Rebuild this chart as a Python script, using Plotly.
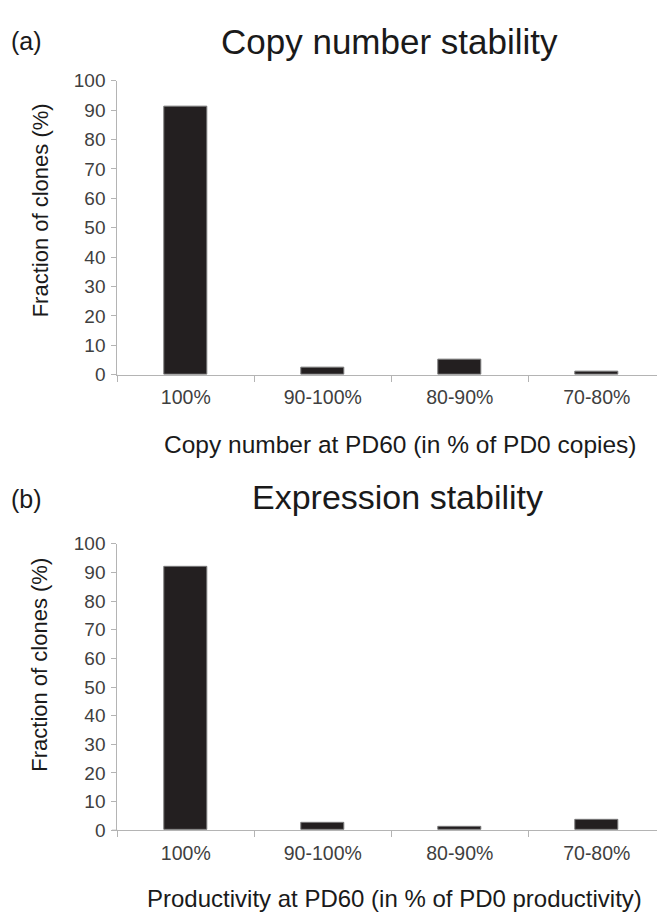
import plotly.graph_objects as go

categories = ["100%", "90-100%", "80-90%", "70-80%"]
copy_number_values = [91.0, 2.5, 5.0, 1.2]
expression_values = [92.0, 2.4, 1.0, 3.7]
y_ticks = [0, 10, 20, 30, 40, 50, 60, 70, 80, 90, 100]

W, H = 657, 921
FONT = "Liberation Sans, Arial, sans-serif"
BAR = "#231f20"
AX = "#b4b4b4"
TXT = "#3f3f3f"

def px_x(x):
    return x / W

def px_y(y):
    return 1 - y / H

fig = go.Figure()

fig.add_trace(go.Bar(x=categories, y=copy_number_values, width=0.317,
                     marker=dict(color=BAR, line=dict(color="#7a7a7a", width=1)),
                     xaxis="x", yaxis="y", showlegend=False))
fig.add_trace(go.Bar(x=categories, y=expression_values, width=0.317,
                     marker=dict(color=BAR, line=dict(color="#7a7a7a", width=1)),
                     xaxis="x2", yaxis="y2", showlegend=False))

x_dom = [px_x(117.3), 1]
xrange = [-0.5, 3.5 - 8.3 / 137]

common_x = dict(type="category", range=xrange, showline=True, linecolor=AX, linewidth=1,
                ticks="outside", tickson="boundaries", ticklen=6, tickcolor=AX,
                tickfont=dict(family=FONT, size=19.5, color=TXT), showgrid=False,
                zeroline=False, ticklabelstandoff=5, domain=x_dom)
common_y = dict(range=[0, 100], tickvals=y_ticks, showline=True, linecolor=AX, linewidth=1,
                ticks="outside", ticklen=5, tickcolor=AX,
                tickfont=dict(family=FONT, size=19, color=TXT), showgrid=False,
                zeroline=False, ticklabelstandoff=2)

fig.update_layout(
    width=W, height=H,
    margin=dict(l=0, r=0, t=0, b=0),
    paper_bgcolor="white", plot_bgcolor="white",
    bargap=0,
    xaxis=dict(**common_x, anchor="y"),
    yaxis=dict(**common_y, domain=[px_y(373.3), px_y(72.3)], anchor="x"),
    xaxis2=dict(**common_x, anchor="y2"),
    yaxis2=dict(**common_y, domain=[px_y(839.3), px_y(546.3)], anchor="x2"),
)

# small extension of the category axis line to the left of the value axis
for yref in ("y", "y2"):
    fig.add_shape(type="line", xref="paper", yref=yref, x0=px_x(112), x1=px_x(117.3),
                  y0=0, y1=0, line=dict(color=AX, width=1))

def ann(text, x, y, size, color="#1a1a1a", angle=0, xanchor="center"):
    fig.add_annotation(text=text, x=px_x(x), y=px_y(y), xref="paper", yref="paper",
                       showarrow=False, xanchor=xanchor, yanchor="middle", textangle=angle,
                       font=dict(family=FONT, size=size, color=color))

ann("(a)", 9, 32, 25, xanchor="left")
ann("(b)", 9, 500, 25, xanchor="left")
ann("Copy number stability", 389, 32, 35)
ann("Expression stability", 397, 498, 34)
ann("Copy number at PD60 (in % of PD0 copies)", 400, 445, 24.5)
ann("Productivity at PD60 (in % of PD0 productivity)", 394, 909, 24)
ann("Fraction of clones (%)", 40, 205, 22, angle=-90)
ann("Fraction of clones (%)", 40, 670, 22, angle=-90)

fig.write_html("out.html")
